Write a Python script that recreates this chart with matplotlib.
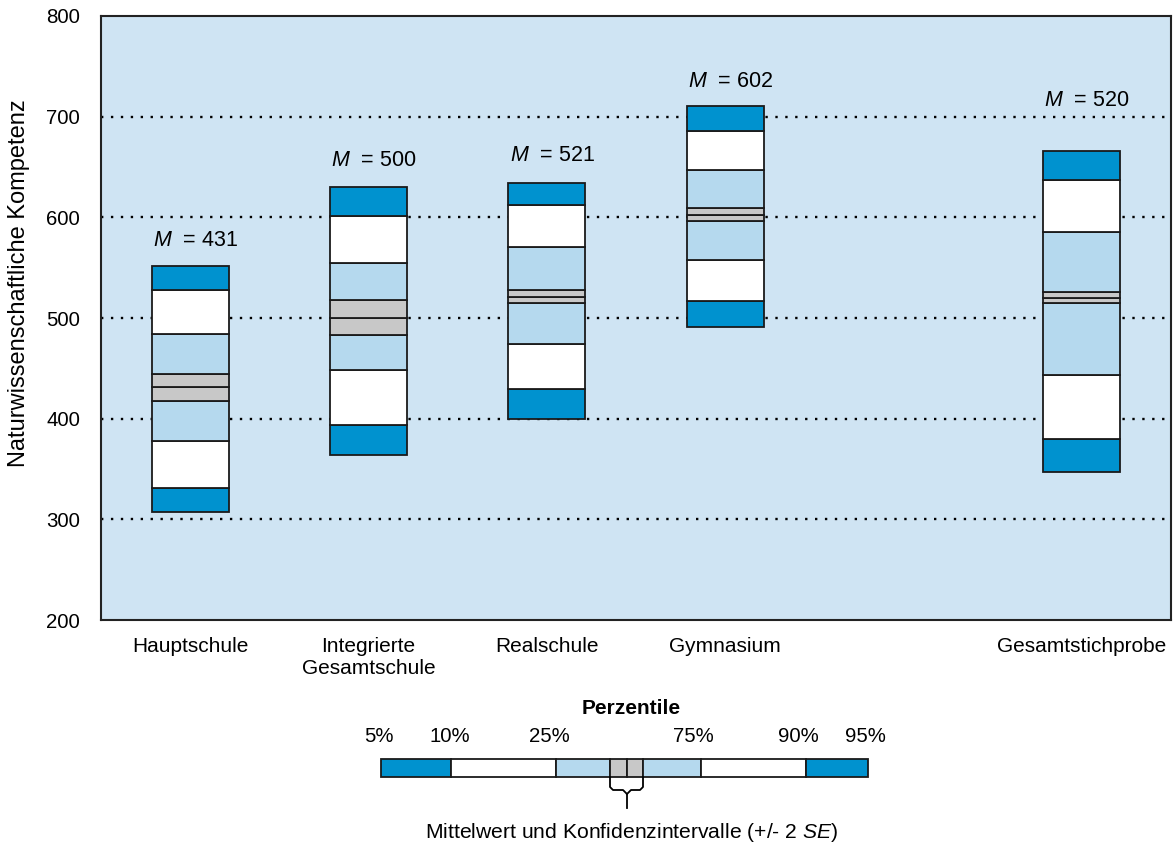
import matplotlib
matplotlib.use("Agg")
import matplotlib.pyplot as plt
from matplotlib.patches import Rectangle

plt.rcParams['font.family'] = ['Liberation Sans', 'DejaVu Sans']
plt.rcParams['mathtext.fontset'] = 'custom'
plt.rcParams['mathtext.rm'] = 'Liberation Sans'
plt.rcParams['mathtext.it'] = 'Liberation Sans:italic'

# Schularten and their x slots (slot 4 stays empty)
schools = ["Hauptschule", "Integrierte\nGesamtschule", "Realschule", "Gymnasium", "Gesamtstichprobe"]
slots = [0, 1, 2, 3, 5]

# percentiles and mean with confidence interval
p5 = [307, 364, 400, 491, 347]
p10 = [331, 394, 429, 517, 380]
p25 = [378, 448, 474, 558, 443]
ci_low = [418, 483, 515, 596, 515]
means = [431, 500, 521, 602, 520]
ci_high = [444, 518, 528, 609, 526]
p75 = [484, 555, 571, 647, 585]
p90 = [528, 601, 612, 686, 637]
p95 = [552, 630, 634, 711, 666]

yticks = [200, 300, 400, 500, 600, 700, 800]
gridlines = [300, 400, 500, 600, 700]

# gap between box top and the M label (the last one sits above the 700 line)
label_gap = [25, 26, 27, 24, 50]

dark_blue = "#0092cf"
light_blue = "#b5d9ee"
grey = "#c8c8c8"
bg = "#cfe4f3"

fig = plt.figure(figsize=(11.76, 8.43), dpi=100)
ax = fig.add_axes([101 / 1176, (843 - 620) / 843, 1070 / 1176, 604 / 843])
ax.set_facecolor(bg)
ax.set_xlim(-0.5, 5.5)
ax.set_ylim(200, 800)

for g in gridlines:
    ax.axhline(g, color="black", linestyle=(0, (1, 3.2)), linewidth=1.7, zorder=1)

w = 0.43
for i, x in enumerate(slots):
    bands = [
        (p5[i], p10[i], dark_blue),
        (p10[i], p25[i], "white"),
        (p25[i], ci_low[i], light_blue),
        (ci_low[i], means[i], grey),
        (means[i], ci_high[i], grey),
        (ci_high[i], p75[i], light_blue),
        (p75[i], p90[i], "white"),
        (p90[i], p95[i], dark_blue),
    ]
    for lo, hi, c in bands:
        ax.add_patch(Rectangle((x - w / 2, lo), w, hi - lo, facecolor=c,
                               edgecolor="#1a1a1a", linewidth=1.3, zorder=3))
    ax.text(x + 0.03, p95[i] + label_gap[i], r"$\it{M}$  = " + str(means[i]), ha="center",
            va="center", fontsize=15.5, zorder=4)

ax.set_yticks(yticks)
ax.set_xticks(slots)
ax.set_xticklabels(schools, fontsize=15)
for lab in ax.get_xticklabels():
    lab.set_linespacing(1.2)
ax.tick_params(axis="both", length=0)
ax.tick_params(axis="y", labelsize=14.7, pad=15)
ax.tick_params(axis="x", pad=12)
for s in ax.spines.values():
    s.set_linewidth(1.5)
    s.set_color("#222222")

# legend key drawn in figure pixels
lax = fig.add_axes([0, 0, 1, 1])
lax.set_xlim(0, 1176)
lax.set_ylim(843, 0)
lax.axis("off")
lax.text(19, 283, "Naturwissenschaftliche Kompetenz", rotation=90, ha="center", va="center",
         fontsize=17)
edges = [381, 451, 556, 610, 627, 643, 701, 806, 868]
cols = [dark_blue, "white", light_blue, grey, grey, light_blue, "white", dark_blue]
for k in range(len(cols)):
    lax.add_patch(Rectangle((edges[k], 759), edges[k + 1] - edges[k], 18,
                            facecolor=cols[k], edgecolor="#1a1a1a", linewidth=1.3))
lax.text(631, 708, "Perzentile", ha="center", va="center", fontsize=15, fontweight="bold")
for lab, xx in zip(["5%", "10%", "25%", "75%", "90%", "95%"], [379, 450, 549, 693, 798, 865]):
    lax.text(xx, 737, lab, ha="center", va="center", fontsize=14.7)
# brace under the confidence interval
lax.plot([610, 610, 613, 623, 627, 627], [777, 787, 790, 790, 794, 808], color="black", lw=1.3)
lax.plot([643, 643, 640, 631, 627], [777, 787, 790, 790, 794], color="black", lw=1.3)
lax.text(632, 832, r"Mittelwert und Konfidenzintervalle (+/- 2 $\it{SE}$)", ha="center",
         va="center", fontsize=15.2)

plt.savefig("out.png", dpi=100)
